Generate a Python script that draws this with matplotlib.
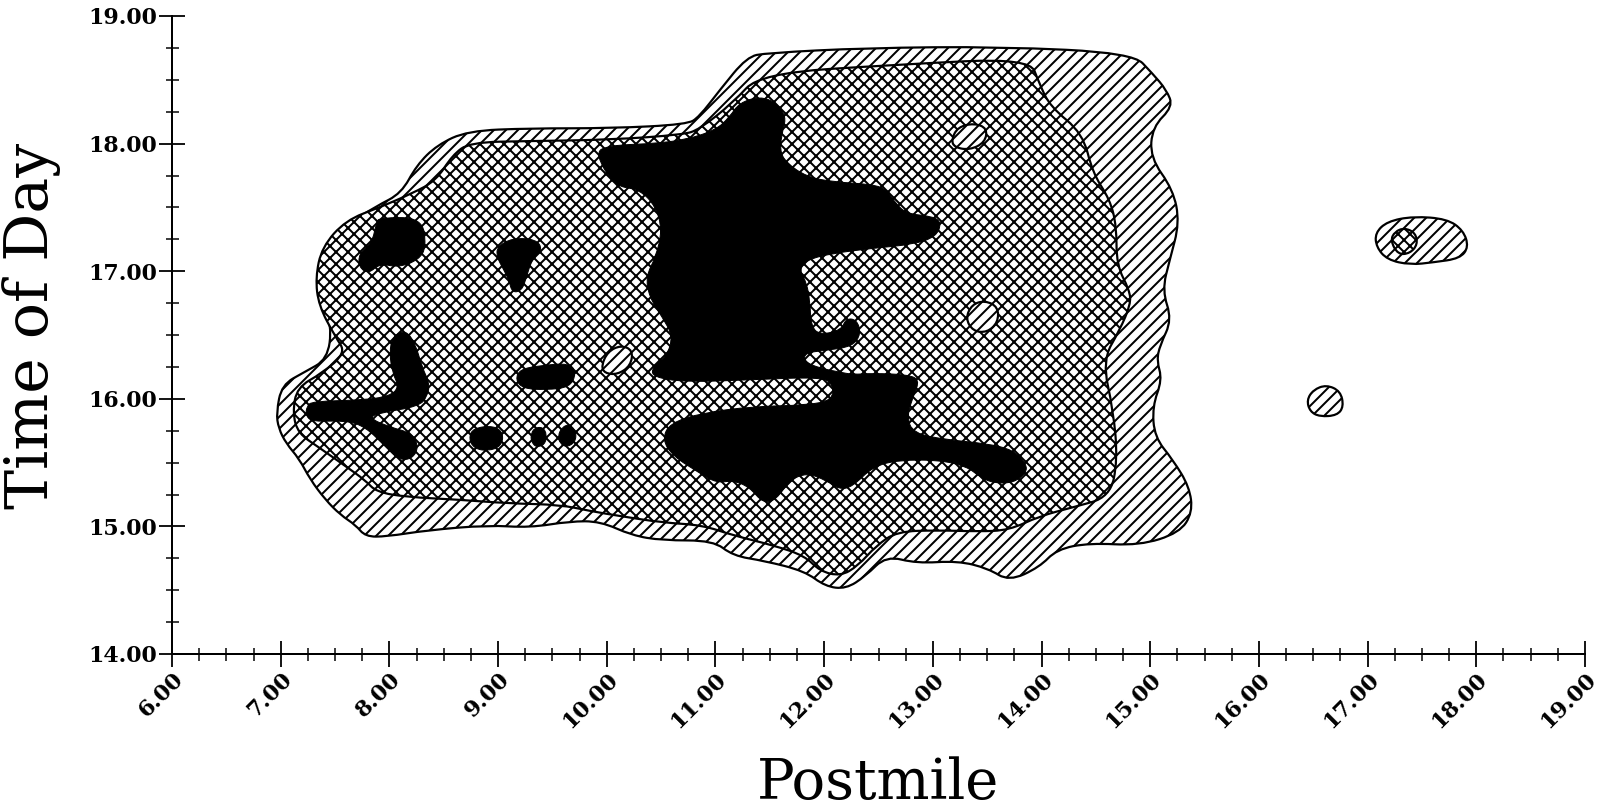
import matplotlib
matplotlib.use('Agg')
import matplotlib.pyplot as plt
from matplotlib.path import Path
from matplotlib.patches import PathPatch
from matplotlib.ticker import MultipleLocator, FormatStrFormatter

DPI = 72  # one point per pixel
plt.rcParams['font.family'] = 'DejaVu Serif'
plt.rcParams['hatch.linewidth'] = 2.0

# contour outlines as (postmile, time of day) vertices
outer = [(6.96, 15.89), (7.01, 16.11), (7.22, 16.21), (7.43, 16.31), (7.47, 16.57),
         (7.37, 16.81), (7.41, 17.13), (7.58, 17.35), (7.88, 17.51), (8.11, 17.61),
         (8.25, 17.83), (8.44, 17.99), (8.72, 18.10), (9.29, 18.12), (10.04, 18.12),
         (10.74, 18.15), (10.85, 18.21), (11.04, 18.42), (11.29, 18.68), (11.47, 18.71),
         (12.39, 18.75), (13.62, 18.76), (14.84, 18.71), (15.02, 18.55), (15.15, 18.42),
         (15.21, 18.29), (15.02, 18.13), (15.00, 17.89), (15.21, 17.64), (15.27, 17.38),
         (15.18, 17.09), (15.11, 16.85), (15.20, 16.62), (15.09, 16.42), (15.06, 16.30),
         (15.11, 16.15), (15.02, 15.94), (15.04, 15.70), (15.21, 15.52), (15.36, 15.31),
         (15.39, 15.11), (15.27, 14.95), (14.90, 14.85), (14.44, 14.87), (14.14, 14.82),
         (13.98, 14.68), (13.70, 14.57), (13.51, 14.67), (13.23, 14.73), (12.85, 14.71),
         (12.57, 14.77), (12.38, 14.61), (12.20, 14.51), (12.01, 14.53), (11.82, 14.65),
         (11.45, 14.73), (11.16, 14.77), (10.98, 14.89), (10.51, 14.89), (10.23, 14.93),
         (9.94, 15.04), (9.66, 15.04), (9.29, 14.99), (8.91, 15.01), (8.35, 14.97),
         (7.97, 14.92), (7.78, 14.92), (7.69, 15.01), (7.55, 15.09), (7.41, 15.21),
         (7.27, 15.37), (7.17, 15.53), (7.05, 15.65), (6.98, 15.77)]

middle = [(7.11, 15.89), (7.15, 16.09), (7.38, 16.20), (7.60, 16.36), (7.50, 16.49),
          (7.35, 16.73), (7.32, 16.95), (7.38, 17.19), (7.60, 17.40), (7.91, 17.50),
          (8.21, 17.61), (8.43, 17.71), (8.58, 17.91), (8.74, 18.01), (9.29, 18.02),
          (10.04, 18.03), (10.70, 18.07), (10.85, 18.11), (11.16, 18.32), (11.41, 18.55),
          (12.69, 18.62), (13.89, 18.67), (13.98, 18.47), (14.08, 18.29), (14.38, 18.08),
          (14.47, 17.77), (14.63, 17.56), (14.69, 17.35), (14.69, 17.05), (14.81, 16.85),
          (14.82, 16.74), (14.72, 16.54), (14.56, 16.30), (14.66, 15.91), (14.70, 15.52),
          (14.63, 15.23), (14.29, 15.15), (13.98, 15.08), (13.70, 14.97), (13.42, 14.96),
          (13.04, 14.97), (12.67, 14.96), (12.48, 14.85), (12.31, 14.69), (12.15, 14.61),
          (11.96, 14.65), (11.82, 14.77), (11.54, 14.85), (11.16, 14.93), (10.88, 15.01),
          (10.51, 15.03), (10.13, 15.08), (9.85, 15.12), (9.57, 15.17), (9.10, 15.18),
          (8.63, 15.21), (8.16, 15.23), (7.88, 15.27), (7.78, 15.36), (7.60, 15.47),
          (7.35, 15.62), (7.16, 15.73)]

# isolated cells east of the main region
east_cell = [(17.07, 17.30), (17.18, 17.39), (17.42, 17.43), (17.73, 17.41), (17.88, 17.32),
             (17.93, 17.19), (17.85, 17.10), (17.61, 17.07), (17.39, 17.05), (17.18, 17.09),
             (17.08, 17.19)]
east_core = [(17.21, 17.24), (17.25, 17.31), (17.34, 17.34), (17.44, 17.30), (17.46, 17.21),
             (17.39, 17.14), (17.28, 17.13)]
east_spot = [(16.44, 15.99), (16.50, 16.07), (16.62, 16.11), (16.75, 16.06), (16.78, 15.94),
             (16.72, 15.87), (16.56, 15.86), (16.47, 15.90)]

# low pockets inside the middle band
pockets = [
    [(13.17, 18.03), (13.23, 18.13), (13.38, 18.16), (13.50, 18.12), (13.48, 18.01),
     (13.34, 17.95), (13.20, 17.97)],
    [(13.30, 16.63), (13.36, 16.74), (13.48, 16.77), (13.60, 16.72), (13.60, 16.60),
     (13.50, 16.52), (13.37, 16.53)],
    [(9.95, 16.26), (10.01, 16.37), (10.13, 16.42), (10.24, 16.38), (10.22, 16.26),
     (10.10, 16.19), (9.98, 16.20)],
]

# highest level
core = [(9.92, 17.94), (9.94, 17.85), (10.03, 17.73), (10.12, 17.66), (10.30, 17.64),
        (10.45, 17.51), (10.51, 17.32), (10.45, 17.11), (10.36, 16.96), (10.39, 16.80),
        (10.51, 16.64), (10.61, 16.49), (10.55, 16.33), (10.42, 16.25), (10.42, 16.17),
        (10.73, 16.13), (11.34, 16.15), (11.96, 16.17), (12.08, 16.12), (12.08, 15.99),
        (11.84, 15.95), (11.34, 15.94), (10.88, 15.89), (10.58, 15.81), (10.51, 15.68),
        (10.61, 15.55), (10.85, 15.42), (11.01, 15.34), (11.16, 15.36), (11.31, 15.31),
        (11.44, 15.18), (11.56, 15.21), (11.68, 15.36), (11.84, 15.42), (12.02, 15.36),
        (12.14, 15.29), (12.26, 15.31), (12.45, 15.47), (12.69, 15.52), (13.06, 15.52),
        (13.31, 15.47), (13.43, 15.39), (13.55, 15.34), (13.74, 15.34), (13.86, 15.42),
        (13.86, 15.49), (13.74, 15.60), (13.49, 15.65), (13.12, 15.68), (12.82, 15.73),
        (12.76, 15.86), (12.82, 16.02), (12.88, 16.15), (12.76, 16.19), (12.45, 16.20),
        (12.26, 16.19), (12.14, 16.21), (11.96, 16.24), (11.82, 16.29), (11.82, 16.36),
        (12.02, 16.38), (12.26, 16.41), (12.34, 16.51), (12.30, 16.62), (12.20, 16.63),
        (12.16, 16.54), (11.96, 16.50), (11.88, 16.57), (11.87, 16.75), (11.84, 16.91),
        (11.77, 17.01), (11.84, 17.09), (12.08, 17.14), (12.45, 17.18), (12.82, 17.21),
        (13.03, 17.27), (13.08, 17.38), (13.00, 17.43), (12.76, 17.45), (12.66, 17.53),
        (12.57, 17.64), (12.45, 17.68), (12.08, 17.70), (11.84, 17.74), (11.65, 17.85),
        (11.59, 17.95), (11.62, 18.11), (11.65, 18.21), (11.56, 18.32), (11.41, 18.37),
        (11.22, 18.32), (11.13, 18.21), (11.01, 18.11), (10.73, 18.03), (10.42, 18.00),
        (10.12, 17.99), (9.98, 17.97)]

spots = [
    [(7.91, 17.42), (8.30, 17.42), (8.34, 17.19), (8.27, 17.09), (8.09, 17.03), (7.91, 17.06),
     (7.81, 16.98), (7.72, 17.03), (7.72, 17.14), (7.84, 17.22), (7.88, 17.38)],
    [(8.99, 17.19), (9.13, 17.26), (9.35, 17.25), (9.41, 17.17), (9.31, 17.09), (9.26, 16.95),
     (9.22, 16.85), (9.13, 16.83), (9.10, 16.93), (9.04, 17.03), (8.99, 17.11)],
    [(7.24, 15.94), (7.29, 15.98), (7.75, 15.99), (8.00, 16.02), (8.09, 16.09), (8.03, 16.20),
     (8.00, 16.36), (8.03, 16.49), (8.15, 16.54), (8.24, 16.43), (8.30, 16.25), (8.37, 16.12),
     (8.35, 16.02), (8.27, 15.94), (7.91, 15.89), (7.81, 15.85), (8.00, 15.78), (8.21, 15.73),
     (8.27, 15.62), (8.21, 15.53), (8.09, 15.52), (7.97, 15.62), (7.78, 15.78), (7.60, 15.83),
     (7.29, 15.82), (7.23, 15.87)],
    [(9.20, 16.23), (9.38, 16.26), (9.66, 16.28), (9.72, 16.20), (9.66, 16.09), (9.44, 16.07),
     (9.23, 16.08), (9.16, 16.15)],
    [(8.77, 15.77), (8.96, 15.79), (9.05, 15.73), (9.03, 15.63), (8.91, 15.59), (8.78, 15.61),
     (8.73, 15.69)],
    [(9.30, 15.71), (9.33, 15.77), (9.41, 15.78), (9.45, 15.72), (9.43, 15.64), (9.35, 15.62),
     (9.31, 15.66)],
    [(9.55, 15.71), (9.59, 15.78), (9.66, 15.80), (9.72, 15.74), (9.71, 15.66), (9.63, 15.62),
     (9.57, 15.65)],
]

fig = plt.figure(figsize=(1598 / DPI, 812 / DPI), dpi=DPI)
ax = fig.add_axes([172 / 1598, 1 - 654 / 812, 1413 / 1598, 638 / 812])

lvl1 = dict(facecolor='white', edgecolor='black', hatch='//', linewidth=2.2)
lvl2 = dict(facecolor='white', edgecolor='black', hatch='xx', linewidth=2.2)
lvl3 = dict(facecolor='black', edgecolor='black', linewidth=1.0)


def region(pts, style):
    # closed outline drawn as quadratic curves through the edge midpoints
    n = len(pts)
    mids = [((pts[i][0] + pts[(i + 1) % n][0]) / 2, (pts[i][1] + pts[(i + 1) % n][1]) / 2)
            for i in range(n)]
    verts, codes = [mids[-1]], [Path.MOVETO]
    for i in range(n):
        verts += [pts[i], mids[i]]
        codes += [Path.CURVE3, Path.CURVE3]
    verts.append(mids[-1])
    codes.append(Path.CLOSEPOLY)
    ax.add_patch(PathPatch(Path(verts, codes), **style))


for pts in (outer, east_cell, east_spot):
    region(pts, lvl1)
for pts in (middle, east_core):
    region(pts, lvl2)
for pts in pockets:
    region(pts, lvl1)
region(core, lvl3)
for pts in spots:
    region(pts, lvl3)

ax.set_xlim(6, 19)
ax.set_ylim(14, 19)
for side in ('top', 'right'):
    ax.spines[side].set_visible(False)
for side in ('left', 'bottom'):
    ax.spines[side].set_linewidth(2)

ax.xaxis.set_major_locator(MultipleLocator(1))
ax.xaxis.set_minor_locator(MultipleLocator(0.25))
ax.yaxis.set_major_locator(MultipleLocator(1))
ax.yaxis.set_minor_locator(MultipleLocator(0.25))
ax.xaxis.set_major_formatter(FormatStrFormatter('%.2f'))
ax.yaxis.set_major_formatter(FormatStrFormatter('%.2f'))
ax.tick_params(which='major', direction='inout', length=26, width=1.8, pad=2, labelsize=22)
ax.tick_params(which='minor', direction='inout', length=13, width=1.5)
ax.tick_params(axis='x', which='major', pad=1)
for lbl in ax.get_xticklabels() + ax.get_yticklabels():
    lbl.set_fontweight('bold')
for lbl in ax.get_xticklabels():
    lbl.set_rotation(45)
    lbl.set_ha('right')
    lbl.set_va('top')
    lbl.set_rotation_mode('anchor')

ax.set_xlabel('Postmile', fontsize=56, va='baseline')
ax.xaxis.set_label_coords(0.5, -(799 - 654) / 638)
ax.set_ylabel('Time of Day', fontsize=60, va='center')
ax.yaxis.set_label_coords(-(172 - 32) / 1413, 0.514)

fig.savefig('out.png', dpi=DPI, facecolor='white')
